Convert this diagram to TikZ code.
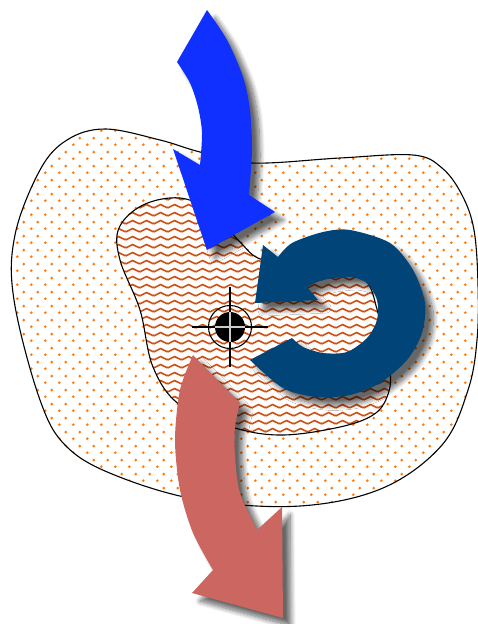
\documentclass[tikz,border=0pt]{standalone}
\usetikzlibrary{patterns,shadows.blur}
\definecolor{dotc}{RGB}{245,125,25}
\definecolor{zigc}{RGB}{212,78,15}
\definecolor{arrblue}{RGB}{16,48,255}
\definecolor{arrnavy}{RGB}{0,68,120}
\definecolor{arrred}{RGB}{204,102,96}
\pgfdeclarepatterninherentlycolored{odots}{\pgfpointorigin}{\pgfpoint{14pt}{14pt}}{\pgfpoint{14pt}{14pt}}{%
  \pgfsetfillcolor{dotc}%
  \pgfpathcircle{\pgfpoint{3.5pt}{3.5pt}}{1.6pt}%
  \pgfpathcircle{\pgfpoint{10.5pt}{10.5pt}}{1.6pt}%
  \pgfusepath{fill}%
}
\pgfdeclarepatterninherentlycolored{ozig}{\pgfpointorigin}{\pgfpoint{14pt}{8.3pt}}{\pgfpoint{14pt}{8.3pt}}{%
  \pgfsetstrokecolor{zigc}\pgfsetlinewidth{1.7pt}%
  \pgfpathmoveto{\pgfpoint{-3.5pt}{4.15pt}}%
  \pgfpathlineto{\pgfpoint{0pt}{2.4pt}}%
  \pgfpathlineto{\pgfpoint{7pt}{5.9pt}}%
  \pgfpathlineto{\pgfpoint{14pt}{2.4pt}}%
  \pgfpathlineto{\pgfpoint{17.5pt}{4.15pt}}%
  \pgfusepath{stroke}%
}
\tikzset{
  blobline/.style={draw=black, line width=1.1pt},
  arrshadow/.style={blur shadow={shadow xshift=8pt, shadow yshift=-8pt, shadow blur radius=5pt, shadow blur steps=10, shadow opacity=60}}
}
\begin{document}
\begin{tikzpicture}[x=1pt,y=-1pt]
\useasboundingbox (0,0) rectangle (478,624);
% outer blob
\path[fill=white, pattern=odots, blobline] plot[smooth cycle, tension=0.6] coordinates {
  (105,129) (160,140) (200,152) (252,163) (340,158) (413,155) (442,168) (462,195)
  (474,230) (478,285) (477,340) (468,390) (442,445) (383,488) (300,506) (200,500) (117,476) (67,447)
  (40,400) (14,300) (15,235) (40,170) (67,140)};
% inner blob
\path[fill=white] plot[smooth cycle, tension=0.6] coordinates {
  (180,198) (212,212) (240,242) (263,260) (320,268) (363,278) (378,313) (390,370)
  (387,397) (373,415) (340,427) (283,435) (235,428) (180,405) (153,367) (140,310)
  (120,260) (119,228) (143,205)};
\path[pattern=ozig, blobline] plot[smooth cycle, tension=0.6] coordinates {
  (180,198) (212,212) (240,242) (263,260) (320,268) (363,278) (378,313) (390,370)
  (387,397) (373,415) (340,427) (283,435) (235,428) (180,405) (153,367) (140,310)
  (120,260) (119,228) (143,205)};
% crosshair
\coordinate (c) at (230,327);
\draw[line width=1.1pt] ([xshift=-38pt]c) -- ([xshift=38pt]c);
\draw[line width=1.1pt] ([yshift=40pt]c) -- ([yshift=-40pt]c);
\draw[line width=1.1pt] (c) circle[radius=21.5];
\fill[black] (c) circle[radius=15];
\draw[line width=1.1pt, black!20] ([xshift=-15pt]c) -- ([xshift=15pt]c);
\draw[line width=1.1pt, black!20] ([yshift=15pt]c) -- ([yshift=-15pt]c);
% blue arrow
\fill[arrblue, arrshadow] (207,10) -- plot[smooth] coordinates {(207,10) (227,40) (243,77) (250,110) (252,150) (249,195)}
  -- (275,212) -- (207,250) -- (173,149) -- (200,165)
  -- plot[smooth] coordinates {(200,165) (202,133) (198,107) (190,83) (177,62)} -- cycle;
% navy circular arrow
\fill[arrnavy, arrshadow] (255,303) -- (263,245) -- (278,257)
  -- plot[smooth] coordinates {(278,257) (292,243) (323,232) (350,230) (390,243) (413,270) (425,303) (422,333) (407,360) (380,383) (350,395) (317,397) (283,388) (250,360)}
  -- (292,338)
  -- plot[smooth] coordinates {(292,338) (303,347) (323,353) (347,352) (367,338) (377,320) (377,300) (367,283) (350,277) (323,280) (307,287)}
  -- (318,300) -- cycle;
% red arrow
\fill[arrred, arrshadow] (193,355) -- plot[smooth] coordinates {(193,355) (180,390) (175,440) (180,490) (193,533) (213,570)}
  -- (192,593) -- (283,618) -- (282,507) -- (257,530)
  -- plot[smooth] coordinates {(257,530) (240,493) (235,457) (235,427) (240,403)} -- cycle;
\end{tikzpicture}
\end{document}
